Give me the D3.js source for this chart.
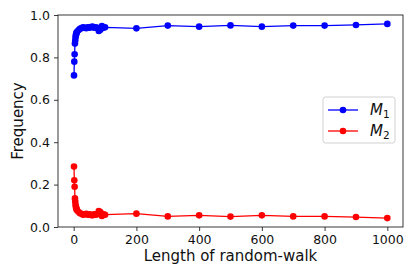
<!DOCTYPE html>
<html>
<head>
<meta charset="utf-8">
<script src="https://cdn.jsdelivr.net/npm/d3@7"></script>
<style>
  body { margin: 0; background: #fff; }
  text { font-family: "DejaVu Sans", sans-serif; }
</style>
</head>
<body>
<svg></svg>
<script>
const walkLength = [1, 2, 3, 4, 5, 6, 7, 8, 9, 10, 15, 20, 25, 30, 35, 40, 45, 50, 55, 60, 65, 70, 75, 80, 85, 90, 95, 100,
    200, 300, 400, 500, 600, 700, 800, 900, 1000];
const m1 = [0.715, 0.78, 0.815, 0.865, 0.88, 0.895, 0.905, 0.91, 0.915, 0.92, 0.928, 0.935, 0.938, 0.942, 0.94, 0.938, 0.942, 0.94, 0.943, 0.945, 0.94, 0.942, 0.94, 0.925, 0.93, 0.948, 0.94, 0.942,
    0.937, 0.950, 0.945, 0.951, 0.945, 0.950, 0.950, 0.953, 0.958];
const m2 = [0.285, 0.22, 0.19, 0.135, 0.12, 0.105, 0.095, 0.09, 0.085, 0.08, 0.072, 0.065, 0.062, 0.058, 0.06, 0.062, 0.058, 0.06, 0.057, 0.055, 0.06, 0.058, 0.06, 0.075, 0.07, 0.052, 0.06, 0.058,
    0.063, 0.050, 0.055, 0.049, 0.055, 0.050, 0.050, 0.047, 0.042];
const xTicks = [0, 200, 400, 600, 800, 1000];
const yTicks = [0, 0.2, 0.4, 0.6, 0.8, 1.0];
const seriesNames = ['M1', 'M2'];
const seriesColors = ['#0000ff', '#ff0000'];

const svgWidth = 415;
const svgHeight = 277;
const margin = { top: 15, right: 12, bottom: 50, left: 58 };
const width = svgWidth - margin.left - margin.right;
const height = svgHeight - margin.top - margin.bottom;

const svg = d3.select('svg')
    .attr('width', svgWidth)
    .attr('height', svgHeight)
    .append('g')
    .attr('transform', `translate(${margin.left}, ${margin.top})`);

const xScale = d3.scaleLinear()
    .domain([-50, 1050])
    .range([0, width]);

const yScale = d3.scaleLinear()
    .domain([0, 1])
    .range([height, 0]);

const xAxis = svg.append('g')
    .attr('transform', `translate(0, ${height})`)
    .call(d3.axisBottom(xScale).tickValues(xTicks).tickFormat(d3.format('d')).tickSize(4).tickPadding(4));

const yAxis = svg.append('g')
    .call(d3.axisLeft(yScale).tickValues(yTicks).tickFormat(d3.format('.1f')).tickSize(4).tickPadding(4));

[xAxis, yAxis].forEach(a => {
    a.select('.domain').remove();
    a.selectAll('line').attr('stroke', '#222').attr('stroke-width', 0.9);
    a.selectAll('text')
        .attr('font-family', '"DejaVu Sans", sans-serif')
        .attr('font-size', '12.5px')
        .attr('fill', '#111');
});

svg.append('rect')
    .attr('width', width)
    .attr('height', height)
    .attr('fill', 'none')
    .attr('stroke', '#222')
    .attr('stroke-width', 0.9);

svg.append('text')
    .attr('x', width / 2)
    .attr('y', height + 34)
    .attr('text-anchor', 'middle')
    .attr('font-size', '15px')
    .attr('fill', '#111')
    .text('Length of random-walk');

svg.append('text')
    .attr('transform', 'rotate(-90)')
    .attr('x', -height / 2)
    .attr('y', -35)
    .attr('text-anchor', 'middle')
    .attr('font-size', '15px')
    .attr('fill', '#111')
    .text('Frequency');

const line = d3.line()
    .x((d, i) => xScale(walkLength[i]))
    .y(d => yScale(d));

[m1, m2].forEach((values, k) => {
    svg.append('path')
        .datum(values)
        .attr('fill', 'none')
        .attr('stroke', seriesColors[k])
        .attr('stroke-width', 1.3)
        .attr('d', line);

    svg.selectAll('.dot' + k)
        .data(values)
        .enter().append('circle')
        .attr('class', 'dot' + k)
        .attr('cx', (d, i) => xScale(walkLength[i]))
        .attr('cy', d => yScale(d))
        .attr('r', 3.3)
        .attr('fill', seriesColors[k]);
});

// legend
const legend = svg.append('g')
    .attr('transform', `translate(${width - 80}, 82)`);

legend.append('rect')
    .attr('width', 72)
    .attr('height', 46)
    .attr('rx', 2.5)
    .attr('fill', '#fff')
    .attr('fill-opacity', 0.8)
    .attr('stroke', '#ccc')
    .attr('stroke-width', 0.9);

seriesNames.forEach((name, k) => {
    const y = 13 + k * 21;
    legend.append('line')
        .attr('x1', 5).attr('x2', 35)
        .attr('y1', y).attr('y2', y)
        .attr('stroke', seriesColors[k])
        .attr('stroke-width', 1.3);
    legend.append('circle')
        .attr('cx', 20).attr('cy', y)
        .attr('r', 3.3)
        .attr('fill', seriesColors[k]);
    const t = legend.append('text')
        .attr('x', 47)
        .attr('y', y + 5)
        .attr('font-size', '15px')
        .attr('fill', '#111');
    t.append('tspan').attr('font-style', 'italic').text(name[0]);
    t.append('tspan').attr('font-size', '10.5px').attr('dy', 3).text(name.slice(1));
});
</script>
</body>
</html>
